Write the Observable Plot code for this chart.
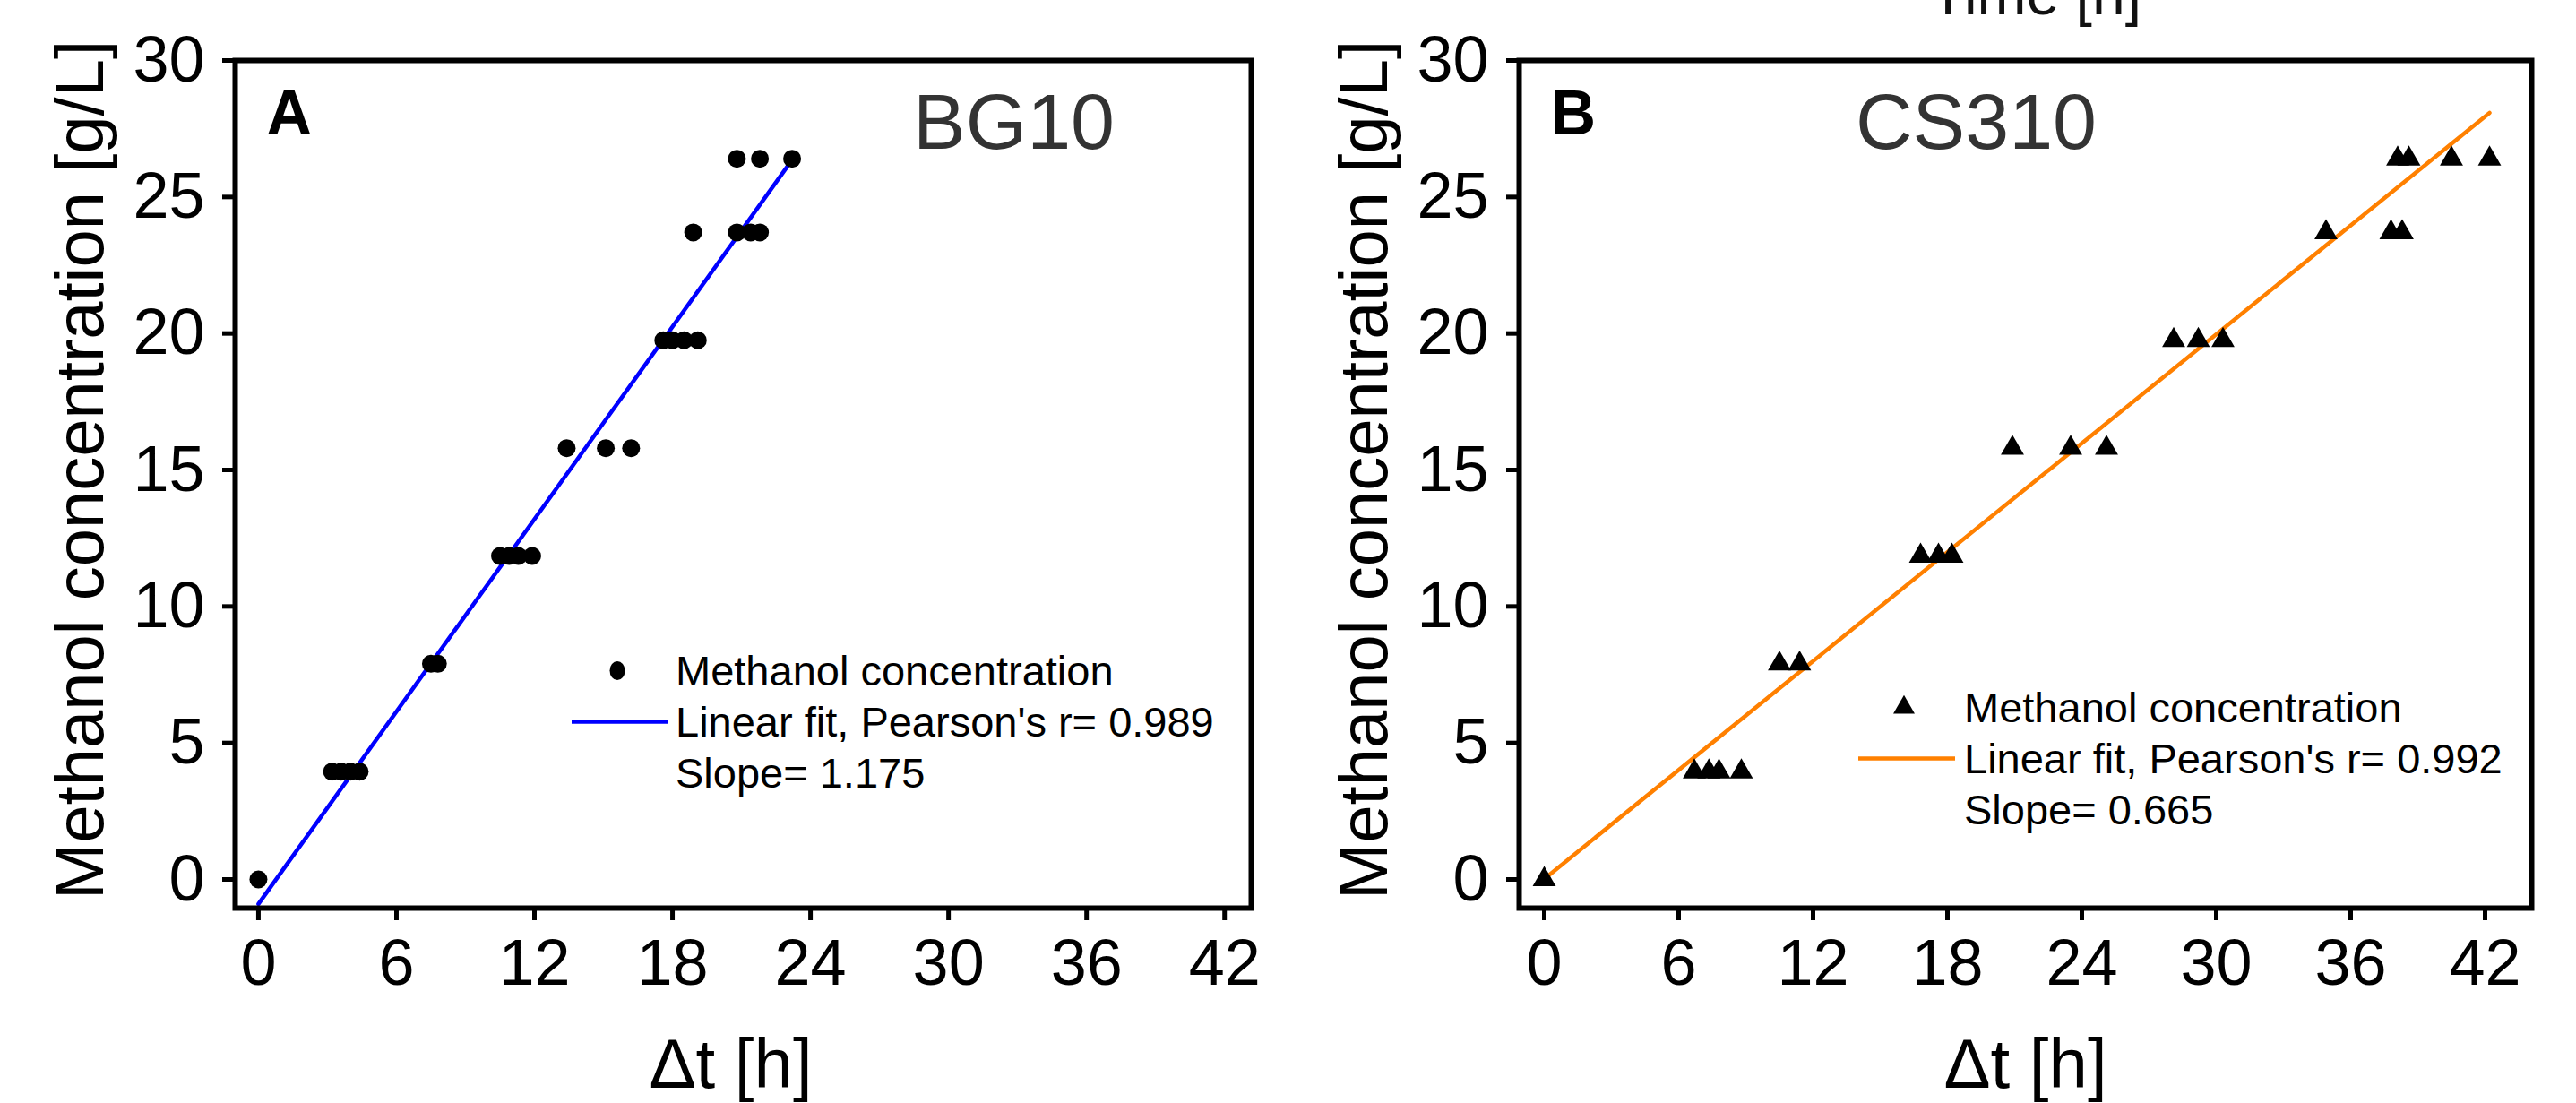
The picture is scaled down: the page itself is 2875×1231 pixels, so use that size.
<!DOCTYPE html>
<html>
<head>
<meta charset="utf-8">
<script src="https://cdn.jsdelivr.net/npm/d3@7"></script>
<script src="https://cdn.jsdelivr.net/npm/@observablehq/plot@0.6"></script>
<style>
  html, body { margin: 0; padding: 0; background: #fff; }
  #page { position: relative; width: 2875px; height: 1231px; overflow: hidden; background: #fff;
          font-family: "Liberation Sans", Arial, sans-serif; }
  .panel { position: absolute; top: 0; height: 1231px; }
  .legend { position: absolute; font-size: 47px; line-height: 57px; color: #000; white-space: nowrap; }
  .legend .row { position: relative; height: 57px; }
  .legend svg { position: absolute; overflow: visible; }
  #cut { position: absolute; z-index: 5; font-size: 66px; line-height: 66px; color: #111; white-space: nowrap;
         transform: translateX(-50%); }
</style>
</head>
<body>
<div id="page">
  <div class="panel" id="panelA" style="left:0;width:1437px"></div>
  <div class="panel" id="panelB" style="left:1437px;width:1438px"></div>
  <div id="cut"></div>
</div>
<script>
// ---------- data ----------
const xTicks = [0, 6, 12, 18, 24, 30, 36, 42];
const yTicks = [0, 5, 10, 15, 20, 25, 30];

// Panel A: BG10
const bg10Time = [0, 3.2, 3.6, 4.0, 4.4, 7.5, 7.8, 10.5, 10.9, 11.3, 11.9, 13.4, 15.1, 16.2,
                  17.6, 18.0, 18.5, 19.1, 18.9, 20.8, 21.4, 21.8, 20.8, 21.8, 23.2];
const bg10Conc = [0, 3.95, 3.95, 3.95, 3.95, 7.9, 7.9, 11.85, 11.85, 11.85, 11.85, 15.8, 15.8, 15.8,
                  19.75, 19.75, 19.75, 19.75, 23.7, 23.7, 23.7, 23.7, 26.4, 26.4, 26.4];
const bg10FitTime = [0, 23.2];
const bg10FitConc = [-0.9, 26.36];

// Panel B: CS310
const cs310Time = [0, 6.7, 7.35, 7.8, 8.8, 10.5, 11.4, 16.8, 17.6, 18.2, 20.9, 23.5, 25.1,
                   28.1, 29.2, 30.3, 34.9, 37.8, 38.3, 38.1, 38.6, 40.5, 42.2];
const cs310Conc = [0, 3.95, 3.95, 3.95, 3.95, 7.9, 7.9, 11.85, 11.85, 11.85, 15.8, 15.8, 15.8,
                   19.75, 19.75, 19.75, 23.7, 23.7, 23.7, 26.4, 26.4, 26.4, 26.4];
const cs310FitTime = [0, 42.2];
const cs310FitConc = [0.02, 28.08];

const yLabel = "Methanol concentration [g/L]";
const xLabel = "\u0394t [h]";
const legendPoint = "Methanol concentration";
const legendFitA = "Linear fit, Pearson's r= 0.989";
const legendSlopeA = "Slope= 1.175";
const legendFitB = "Linear fit, Pearson's r= 0.992";
const legendSlopeB = "Slope= 0.665";
const cutTitle = "Time [h]";

// ---------- helpers ----------
const zip = (xs, ys) => xs.map((x, i) => ({x, y: ys[i]}));
const FONT = "Liberation Sans, Arial, sans-serif";

function panel({width, marginLeft, marginRight, xDomain, pts, fit, fitColor, symbol, r,
                letter, strain, strainDx, xLabelDx}) {
  return Plot.plot({
    width, height: 1231,
    marginLeft, marginRight, marginTop: 67, marginBottom: 218,
    x: {domain: xDomain},
    y: {domain: [-1.05, 30]},
    style: {fontFamily: FONT, color: "#000", background: "#fff", overflow: "visible"},
    marks: [
      Plot.line(fit, {x: "x", y: "y", stroke: fitColor, strokeWidth: 4.5}),
      Plot.dot(pts, {x: "x", y: "y", symbol, r, fill: "#000", stroke: "none"}),
      Plot.frame({stroke: "#000", strokeWidth: 6}),
      Plot.axisX({ticks: xTicks, tickSize: 14, tickPadding: 20, strokeWidth: 5, fontSize: 72,
                  label: null, tickFormat: d => String(d)}),
      Plot.axisY({ticks: yTicks, tickSize: 14, tickPadding: 20, strokeWidth: 5, fontSize: 72,
                  label: null, tickFormat: d => String(d)}),
      Plot.text([yLabel], {text: d => d, frameAnchor: "left", rotate: -90, dx: -172, dy: -16,
                           fontSize: 76, lineAnchor: "middle", textAnchor: "middle", fill: "#000"}),
      Plot.text([xLabel], {text: d => d, frameAnchor: "bottom", dx: xLabelDx, dy: 176,
                           fontSize: 78, lineAnchor: "middle", textAnchor: "middle", fill: "#000"}),
      Plot.text([letter], {text: d => d, frameAnchor: "top-left", dx: 35, dy: 33,
                           fontSize: 70, fontWeight: "bold", lineAnchor: "top", textAnchor: "start", fill: "#000"}),
      Plot.text([strain], {text: d => d, frameAnchor: "top", dx: strainDx, dy: 36,
                           fontSize: 88, lineAnchor: "top", textAnchor: "middle", fill: "#333"})
    ]
  });
}

function legend(container, {left, top, iconX, lineX1, lineX2, color, marker, fitText, slopeText}) {
  const d = document.createElement("div");
  d.className = "legend";
  d.style.left = left + "px";
  d.style.top = top + "px";
  const rows = [legendPoint, fitText, slopeText];
  rows.forEach((t) => {
    const row = document.createElement("div");
    row.className = "row";
    row.textContent = t;
    d.appendChild(row);
  });
  const ns = "http://www.w3.org/2000/svg";
  const svg = document.createElementNS(ns, "svg");
  svg.setAttribute("width", "1"); svg.setAttribute("height", "1");
  svg.style.left = "0px"; svg.style.top = "0px";
  const cy0 = 28.5, cy1 = 28.5 + 57;
  if (marker === "dot") {
    const e = document.createElementNS(ns, "ellipse");
    e.setAttribute("cx", iconX - left); e.setAttribute("cy", cy0);
    e.setAttribute("rx", 8.5); e.setAttribute("ry", 10.5); e.setAttribute("fill", "#000");
    svg.appendChild(e);
  } else {
    const p = document.createElementNS(ns, "path");
    const cx = iconX - left, s = 24, h = s * Math.sqrt(3) / 2;
    p.setAttribute("d", `M${cx},${cy0 - h * 2 / 3}L${cx + s / 2},${cy0 + h / 3}L${cx - s / 2},${cy0 + h / 3}Z`);
    p.setAttribute("fill", "#000");
    svg.appendChild(p);
  }
  const l = document.createElementNS(ns, "line");
  l.setAttribute("x1", lineX1 - left); l.setAttribute("x2", lineX2 - left);
  l.setAttribute("y1", cy1); l.setAttribute("y2", cy1);
  l.setAttribute("stroke", color); l.setAttribute("stroke-width", 4.5);
  svg.appendChild(l);
  d.appendChild(svg);
  container.appendChild(d);
}

// ---------- render ----------
const A = document.getElementById("panelA");
A.appendChild(panel({
  width: 1437, marginLeft: 262, marginRight: 41, xDomain: [-1.01, 43.16],
  pts: zip(bg10Time, bg10Conc), fit: zip(bg10FitTime, bg10FitConc), fitColor: "#0000ff",
  symbol: "circle", r: 10, letter: "A", strain: "BG10", strainDx: 302, xLabelDx: -14
}));
legend(A, {left: 754, top: 748 - 28.5, iconX: 689, lineX1: 638, lineX2: 746,
           color: "#0000ff", marker: "dot", fitText: legendFitA, slopeText: legendSlopeA});

const B = document.getElementById("panelB");
B.appendChild(panel({
  width: 1438, marginLeft: 258, marginRight: 50, xDomain: [-1.12, 44.08],
  pts: zip(cs310Time, cs310Conc), fit: zip(cs310FitTime, cs310FitConc), fitColor: "#ff8000",
  symbol: "triangle", r: 9.6, letter: "B", strain: "CS310", strainDx: -55, xLabelDx: 0
}));
legend(B, {left: 2192 - 1437, top: 789 - 28.5, iconX: 2125 - 1437, lineX1: 2074 - 1437, lineX2: 2182 - 1437,
           color: "#ff8000", marker: "triangle", fitText: legendFitB, slopeText: legendSlopeB});

const cut = document.getElementById("cut");
cut.textContent = cutTitle;
cut.style.left = "2272px";
cut.style.top = "-40px";
</script>
</body>
</html>
